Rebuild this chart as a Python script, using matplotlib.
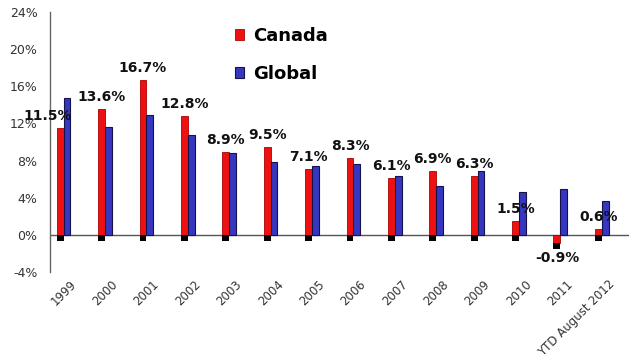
import numpy as np
import matplotlib
matplotlib.use("Agg")
import matplotlib.pyplot as plt
from matplotlib.transforms import ScaledTranslation

# data
years = ["1999", "2000", "2001", "2002", "2003", "2004", "2005", "2006",
         "2007", "2008", "2009", "2010", "2011", "YTD August 2012"]
canada = [11.5, 13.6, 16.7, 12.8, 8.9, 9.5, 7.1, 8.3, 6.1, 6.9, 6.3, 1.5, -0.9, 0.6]
global_ = [14.7, 11.6, 12.9, 10.8, 8.8, 7.9, 7.4, 7.6, 6.3, 5.3, 6.9, 4.6, 4.9, 3.7]
canada_labels = ["11.5%", "13.6%", "16.7%", "12.8%", "8.9%", "9.5%", "7.1%", "8.3%",
                 "6.1%", "6.9%", "6.3%", "1.5%", "-0.9%", "0.6%"]
yticks = [-4, 0, 4, 8, 12, 16, 20, 24]

fig = plt.figure(figsize=(6.33, 3.61), dpi=100)
ax = fig.add_axes([50 / 633, 1 - 272 / 361, 579 / 633, 260 / 361])

x = np.arange(len(years))
w = 0.165
red_x = x - w / 2
blue_x = x + w / 2

b1 = ax.bar(red_x, canada, w, color="#ee1111", edgecolor="#aa0000", linewidth=0.6,
            label="Canada", zorder=3)
b2 = ax.bar(blue_x, global_, w, color="#3636c0", edgecolor="#14144a", linewidth=0.8,
            label="Global", zorder=3)

# small black markers under the red bars
base = np.minimum(canada, 0)
ax.bar(red_x, [-0.65] * len(x), w, bottom=base, color="black", zorder=4)

ax.axhline(0, color="#555555", linewidth=1.0, zorder=2)

# value labels
for i, (xx, v, lab) in enumerate(zip(red_x, canada, canada_labels)):
    dx = -13 if i == 0 else 0
    dy = 12 if v >= 0 else -15
    ax.annotate(lab, (xx, v), xytext=(dx, dy), textcoords="offset pixels",
                ha="center", va="center", fontsize=10, fontweight="bold",
                color="#111111", zorder=5)

ax.set_ylim(-4, 24)
ax.set_xlim(-0.33, len(x) - 1 + 0.66)
ax.set_yticks(yticks)
ax.set_yticklabels([f"{t}%" for t in yticks], fontsize=9, color="#333333")
ax.set_xticks(x)
ax.set_xticklabels(years, fontsize=8.5, color="#333333", rotation=45,
                   ha="right", va="top", rotation_mode="anchor")
ax.tick_params(axis="y", length=0, pad=9)
ax.tick_params(axis="x", length=0, pad=4)
off = ScaledTranslation(6 / 100, 0, fig.dpi_scale_trans)
for lbl in ax.get_xticklabels():
    lbl.set_transform(lbl.get_transform() + off)

for s in ["top", "right", "bottom"]:
    ax.spines[s].set_visible(False)
ax.spines["left"].set_color("#666666")
ax.spines["left"].set_linewidth(1.0)

ax.legend(handles=[b1, b2], loc="upper left", bbox_to_anchor=(235 / 633, 1 - 27 / 361),
          bbox_transform=fig.transFigure, frameon=False,
          prop={"size": 13, "weight": "bold"}, handlelength=0.5, handleheight=0.6,
          handletextpad=0.5, labelspacing=1.1, borderpad=0, borderaxespad=0)

fig.savefig("out.png", dpi=100)
